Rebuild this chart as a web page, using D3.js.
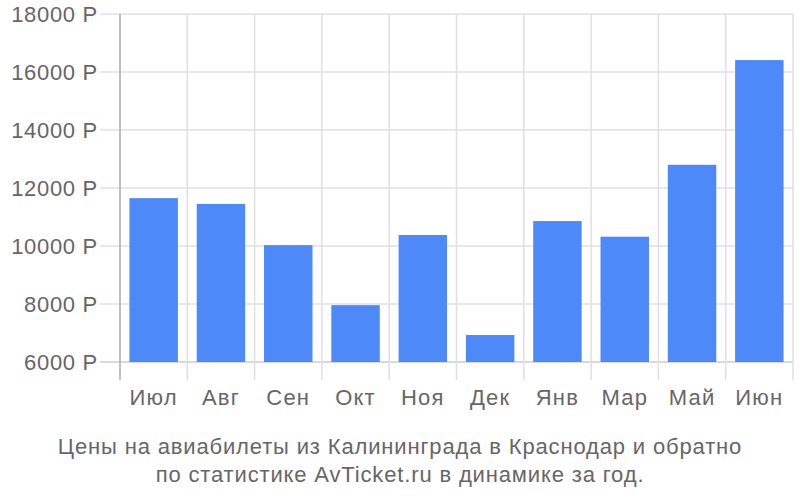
<!DOCTYPE html>
<html>
<head>
<meta charset="utf-8">
<script src="https://cdn.jsdelivr.net/npm/d3@7"></script>
<style>
  body { margin: 0; background: #fff; }
  text { font-family: "Liberation Sans", Arial, sans-serif; }
</style>
</head>
<body>
<svg width="800" height="500"></svg>
<script>
const months = ["Июл", "Авг", "Сен", "Окт", "Ноя", "Дек", "Янв", "Мар", "Май", "Июн"];
const prices = [11650, 11450, 10030, 7960, 10380, 6930, 10860, 10320, 12800, 16410];
const yTicks = [6000, 8000, 10000, 12000, 14000, 16000, 18000];
const titleLines = [
  "Цены на авиабилеты из Калининграда в Краснодар и обратно",
  "по статистике AvTicket.ru в динамике за год."
];

const margin = { left: 120, right: 7, top: 14, bottom: 120 };
const width = 800;
const height = 500;
const baseY = height - margin.bottom - 18; // 6000 line
const axisBottom = height - margin.bottom;

const svg = d3.select("svg");

const x = d3.scaleBand()
  .domain(months)
  .range([margin.left, width - margin.right])
  .paddingInner(0.28)
  .paddingOuter(0.14);

const xGrid = d3.scaleBand()
  .domain(months)
  .range([margin.left, width - margin.right]);

const y = d3.scaleLinear()
  .domain([6000, 18000])
  .range([baseY, margin.top]);

// horizontal grid
svg.append("g")
  .selectAll("line")
  .data(yTicks)
  .join("line")
  .attr("x1", margin.left - 20)
  .attr("x2", width - margin.right)
  .attr("y1", d => y(d))
  .attr("y2", d => y(d))
  .attr("stroke", d => d === 6000 ? "#ccc" : "#e0e0e0")
  .attr("stroke-width", 1.5);

// vertical grid at band edges
const edges = months.map(m => xGrid(m)).concat([width - margin.right]);
svg.append("g")
  .selectAll("line")
  .data(edges.slice(1))
  .join("line")
  .attr("x1", d => d)
  .attr("x2", d => d)
  .attr("y1", margin.top)
  .attr("y2", axisBottom)
  .attr("stroke", "#e0e0e0")
  .attr("stroke-width", 1.5);

// bars
svg.append("g")
  .selectAll("rect")
  .data(prices)
  .join("rect")
  .attr("x", (d, i) => x(months[i]))
  .attr("width", x.bandwidth())
  .attr("y", d => y(d))
  .attr("height", d => baseY - y(d))
  .attr("fill", "#4d89f9");

// y axis line
svg.append("line")
  .attr("x1", margin.left)
  .attr("x2", margin.left)
  .attr("y1", margin.top)
  .attr("y2", axisBottom)
  .attr("stroke", "#aaa")
  .attr("stroke-width", 1.5);

// y tick labels
svg.append("g")
  .selectAll("text")
  .data(yTicks)
  .join("text")
  .attr("x", margin.left - 22)
  .attr("y", d => y(d) + 8)
  .attr("text-anchor", "end")
  .attr("font-size", 22)
  .attr("letter-spacing", 0.7)
  .attr("fill", "#666")
  .text(d => d + " Р");

// x labels
svg.append("g")
  .selectAll("text")
  .data(months)
  .join("text")
  .attr("x", d => xGrid(d) + xGrid.bandwidth() / 2)
  .attr("y", 405)
  .attr("text-anchor", "middle")
  .attr("font-size", 22)
  .attr("letter-spacing", 1.2)
  .attr("fill", "#666")
  .text(d => d);

// title
svg.append("g")
  .selectAll("text")
  .data(titleLines)
  .join("text")
  .attr("x", 400)
  .attr("y", (d, i) => 454 + i * 28)
  .attr("text-anchor", "middle")
  .attr("font-size", 22)
  .attr("letter-spacing", 0.85)
  .attr("fill", "#666")
  .text(d => d);
</script>
</body>
</html>
